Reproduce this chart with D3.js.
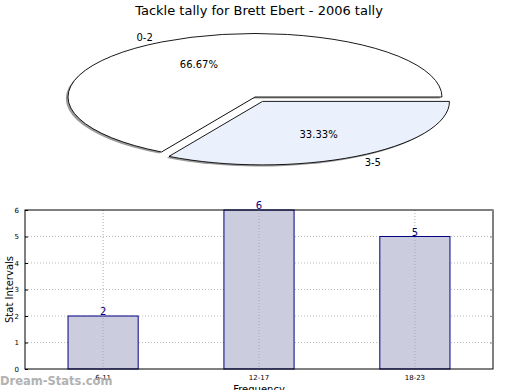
<!DOCTYPE html>
<html><head><meta charset="utf-8">
<script src="https://cdn.jsdelivr.net/npm/d3@7"></script>
<style>body{margin:0;background:#fff}svg{display:block;font-family:"DejaVu Sans",sans-serif}</style>
</head><body>
<script>
const title = "Tackle tally for Brett Ebert - 2006 tally";
const pieLabels = ["0-2", "3-5"];
const pieValues = [2, 1];
const pieColors = ["#ffffff", "#eaf0fc"];
const pieExplode = [0, 0.08];
const barCategories = ["6-11", "12-17", "18-23"];
const barValues = [2, 6, 5];
const yTicks = [0, 1, 2, 3, 4, 5, 6];

const W = 520, H = 390;
const svg = d3.select("body").append("svg").attr("width", W).attr("height", H);

svg.append("text").attr("x", 259).attr("y", 15).attr("text-anchor", "middle")
  .attr("font-size", 13).attr("fill", "#000").text(title);

// ---- pie (elliptical, matplotlib-like, CCW from east) ----
const cx = 255, cy = 97, rx = 187, ry = 63.5;
const total = d3.sum(pieValues);
const pie = d3.pie().sort(null).value(d => d).startAngle(Math.PI / 2).endAngle(Math.PI / 2 - 2 * Math.PI);
const arcs = pie(pieValues);
const arcGen = d3.arc().innerRadius(0).outerRadius(1);
const pg = svg.append("g");
function offset(a, i, k) {
  const mid = (a.startAngle + a.endAngle) / 2; // d3 angle, clockwise from north
  const dx = Math.sin(mid) * k, dy = -Math.cos(mid) * k;
  return [cx + dx * rx, cy + dy * ry];
}
// shadows
arcs.forEach((a, i) => {
  const [ox, oy] = offset(a, i, pieExplode[i]);
  pg.append("path").attr("d", arcGen(a))
    .attr("transform", `translate(${ox - 2.2},${oy + 1.6}) scale(${rx},${ry})`)
    .attr("fill", "#7a7a7a").attr("opacity", 0.75);
});
arcs.forEach((a, i) => {
  const [ox, oy] = offset(a, i, pieExplode[i]);
  pg.append("path").attr("d", arcGen(a))
    .attr("transform", `translate(${ox},${oy}) scale(${rx},${ry})`)
    .attr("fill", pieColors[i]).attr("stroke", "#000").attr("stroke-width", 0.9)
    .attr("vector-effect", "non-scaling-stroke");
});
arcs.forEach((a, i) => {
  const mid = (a.startAngle + a.endAngle) / 2;
  const [ox, oy] = offset(a, i, pieExplode[i]);
  const ux = Math.sin(mid), uy = -Math.cos(mid);
  const pct = (pieValues[i] / total * 100).toFixed(2) + "%";
  pg.append("text").attr("x", ox + ux * 0.6 * rx).attr("y", oy + uy * 0.6 * ry + 4)
    .attr("text-anchor", "middle").attr("font-size", 10).text(pct);
  pg.append("text").attr("x", ox + ux * 1.18 * rx).attr("y", oy + uy * 1.1 * ry + 4)
    .attr("text-anchor", "middle").attr("font-size", 10).text(pieLabels[i]);
});

// ---- bar chart ----
const L = 25, R = 493, T = 210, B = 369;
const x = d3.scaleBand().domain(barCategories).range([L, R]).paddingInner(0.55).paddingOuter(0.276);
const y = d3.scaleLinear().domain([0, 6]).range([B, T]);
const bg = svg.append("g");

// grid
bg.selectAll(".hg").data(yTicks.slice(1, -1)).enter().append("line")
  .attr("x1", L).attr("x2", R).attr("y1", d => y(d)).attr("y2", d => y(d))
  .attr("stroke", "#bbb").attr("stroke-width", 1).attr("stroke-dasharray", "1,2");

bg.selectAll(".bar").data(barValues).enter().append("rect")
  .attr("x", (d, i) => x(barCategories[i])).attr("width", x.bandwidth())
  .attr("y", d => y(d)).attr("height", d => B - y(d))
  .attr("fill", "#ccccdf").attr("stroke", "#000080").attr("stroke-width", 1);

bg.selectAll(".vg").data(barCategories).enter().append("line")
  .attr("x1", d => x(d) + x.bandwidth() / 2).attr("x2", d => x(d) + x.bandwidth() / 2)
  .attr("y1", T).attr("y2", B)
  .attr("stroke", "#aaa").attr("stroke-width", 1).attr("stroke-dasharray", "1,2");

// frame
bg.append("rect").attr("x", L).attr("y", T).attr("width", R - L).attr("height", B - T)
  .attr("fill", "none").attr("stroke", "#000").attr("stroke-width", 1);

// axes
const yAxis = d3.axisLeft(y).tickValues(yTicks).tickSize(3).tickFormat(d3.format("d"));
const ya = bg.append("g").attr("transform", `translate(${L},0)`).call(yAxis);
ya.select(".domain").remove();
ya.selectAll("text").attr("font-size", 7).attr("font-family", "DejaVu Sans").attr("fill", "#000");
ya.selectAll("line").attr("stroke", "#000").attr("transform", "translate(3,0)");
const yAxisR = d3.axisRight(y).tickValues(yTicks).tickSize(3).tickFormat("");
const yr = bg.append("g").attr("transform", `translate(${R - 3},0)`).call(yAxisR);
yr.select(".domain").remove(); yr.selectAll("line").attr("stroke", "#888");

const xAxis = d3.axisBottom(x).tickSize(0).tickPadding(6);
const xa = bg.append("g").attr("transform", `translate(0,${B})`).call(xAxis);
xa.select(".domain").remove();
xa.selectAll("text").attr("font-size", 7).attr("font-family", "DejaVu Sans").attr("fill", "#000");

// value labels
bg.selectAll(".vl").data(barValues).enter().append("text")
  .attr("x", (d, i) => x(barCategories[i]) + x.bandwidth() / 2).attr("y", d => y(d) - 1)
  .attr("text-anchor", "middle").attr("font-size", 10).attr("fill", "#000080").text(d => d);

svg.append("text").attr("transform", `translate(13,${(T + B) / 2}) rotate(-90)`)
  .attr("text-anchor", "middle").attr("font-size", 10).text("Stat Intervals");
svg.append("text").attr("x", (L + R) / 2).attr("y", 393).attr("text-anchor", "middle")
  .attr("font-size", 10).text("Frequency");

svg.append("text").attr("x", 0).attr("y", 385).attr("font-size", 11.5).attr("font-weight", "bold")
  .attr("fill", "#aaa").attr("opacity", 0.9).text("Dream-Stats.com");
</script>
</body></html>
